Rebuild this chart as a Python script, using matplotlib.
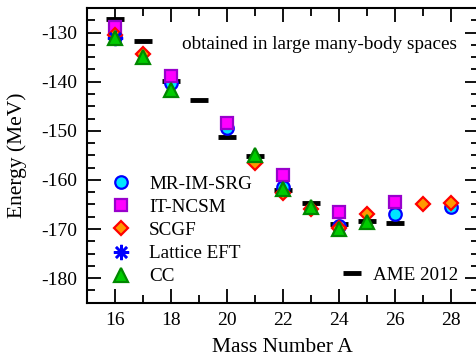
import matplotlib
matplotlib.use("Agg")
import matplotlib.pyplot as plt
from matplotlib.lines import Line2D
import numpy as np

plt.rcParams['font.family'] = ['Liberation Serif', 'DejaVu Serif']
plt.rcParams['axes.unicode_minus'] = False

# Data
A_ame = [16, 17, 18, 19, 20, 21, 22, 23, 24, 25, 26]
E_ame = [-127.3, -131.8, -139.8, -143.7, -151.3, -155.2, -162.1, -164.7, -168.9, -168.3, -168.8]

A_imsrg = [16, 18, 20, 22, 24, 26, 28]
E_imsrg = [-131.0, -140.3, -149.5, -161.5, -169.3, -167.0, -165.6]

A_ncsm = [16, 18, 20, 22, 24, 26]
E_ncsm = [-128.8, -138.8, -148.5, -159.1, -166.6, -164.5]

A_scgf = [16, 17, 21, 22, 23, 24, 25, 27, 28]
E_scgf = [-130.5, -134.3, -156.5, -162.7, -165.9, -169.7, -166.9, -165.0, -164.7]

A_eft = [16]
E_eft = [-131.2]

A_cc = [16, 17, 18, 21, 22, 23, 24, 25]
E_cc = [-131.1, -135.0, -141.7, -155.0, -161.8, -165.5, -170.0, -168.5]

xticks = [16, 18, 20, 22, 24, 26, 28]
yticks = [-180, -170, -160, -150, -140, -130]

W, H = 476, 357
fig = plt.figure(figsize=(W/100, H/100), dpi=100)
left, right, top, bottom = 86.7, 478.7, 8.0, 302.7
ax = fig.add_axes([left/W, 1-bottom/H, (right-left)/W, (bottom-top)/H])

ax.plot(A_ame, E_ame, linestyle='none', marker='_', markersize=12.5, mew=3.5, color='black', zorder=2)
ax.plot(A_imsrg, E_imsrg, linestyle='none', marker='o', markersize=9, mfc='#00e5ff', mec='#0000ff', mew=1.6, zorder=3)
ax.plot(A_ncsm, E_ncsm, linestyle='none', marker='s', markersize=8, mfc='#ff00ff', mec='#9900cc', mew=1.6, zorder=3)
ax.plot(A_scgf, E_scgf, linestyle='none', marker='D', markersize=7.5, mfc='#ff9900', mec='#ff0000', mew=1.6, zorder=4)
ax.plot(A_eft, E_eft, linestyle='none', marker=(8, 2, 0), markersize=11, mec='#0000ff', mew=1.8, zorder=4)
ax.plot(A_cc, E_cc, linestyle='none', marker='^', markersize=10.5, mfc='#00cc00', mec='#008800', mew=1.6, zorder=5)

ax.set_xlim(15, 29)
ax.set_ylim(-185, -125)
ax.set_xticks(xticks)
ax.set_xticks(np.arange(15, 30, 1), minor=True)
ax.set_yticks(yticks)
ax.set_yticks(np.arange(-185, -124, 2.5), minor=True)
ax.tick_params(which='both', direction='in', top=True, right=True, labelsize=14, width=1.3)
ax.tick_params(which='major', length=10, pad=7)
ax.tick_params(which='minor', length=6)
for s in ax.spines.values():
    s.set_linewidth(1.5)

ax.set_xlabel('Mass Number A', fontsize=15.5, labelpad=6)
ax.set_ylabel('Energy (MeV)', fontsize=15.5, labelpad=10)

ax.text(0.242, 0.877, 'obtained in large many-body spaces', transform=ax.transAxes, fontsize=13.8, va='center', ha='left')

handles = [
    Line2D([], [], linestyle='none', marker='o', markersize=9, mfc='#00e5ff', mec='#0000ff', mew=1.6),
    Line2D([], [], linestyle='none', marker='s', markersize=8, mfc='#ff00ff', mec='#9900cc', mew=1.6),
    Line2D([], [], linestyle='none', marker='D', markersize=7.5, mfc='#ff9900', mec='#ff0000', mew=1.6),
    Line2D([], [], linestyle='none', marker=(8, 2, 0), markersize=11, mec='#0000ff', mew=1.8),
    Line2D([], [], linestyle='none', marker='^', markersize=10.5, mfc='#00cc00', mec='#008800', mew=1.6),
]
labels = ['MR-IM-SRG', 'IT-NCSM', 'SCGF', 'Lattice EFT', 'CC']
leg1 = ax.legend(handles, labels, loc='upper left', bbox_to_anchor=(0.044, 0.458), frameon=False,
                 fontsize=13.8, handlelength=1.0, handletextpad=0.95, labelspacing=0.3, borderaxespad=0)
ax.add_artist(leg1)
h2 = [Line2D([], [], linestyle='none', marker='_', markersize=12.5, mew=3.5, color='black')]
ax.legend(h2, ['AME 2012'], loc='upper left', bbox_to_anchor=(0.633, 0.15), frameon=False,
          fontsize=13.8, handlelength=1.0, handletextpad=0.6, borderaxespad=0)

fig.savefig('out.png', dpi=100)
